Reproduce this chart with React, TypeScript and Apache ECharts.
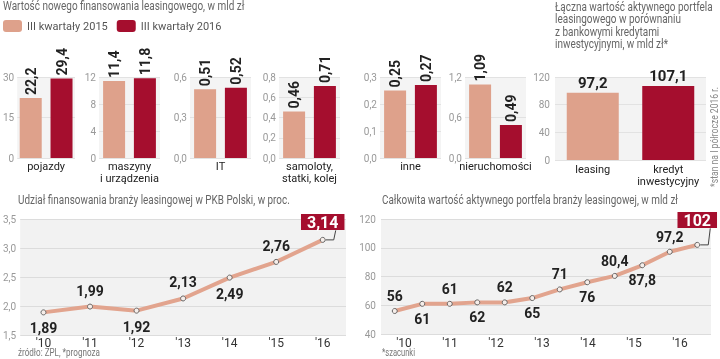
import React, { useEffect, useRef } from 'react';
import * as echarts from 'echarts';

// ---------- data ----------
const legendNames = ['III kwartały 2015', 'III kwartały 2016'];
const smallCategories = ['pojazdy', 'maszyny\ni urządzenia', 'IT', 'samoloty,\nstatki, kolej', 'inne', 'nieruchomości'];
const values2015 = [22.2, 11.4, 0.51, 0.46, 0.25, 1.09];
const values2016 = [29.4, 11.8, 0.52, 0.71, 0.27, 0.49];
const smallMax = [30, 12, 0.6, 0.8, 0.3, 1.2];
const smallInterval = [15, 4, 0.3, 0.2, 0.1, 0.6];
const smallDecimals = [0, 0, 1, 1, 1, 1];

const portfolioCategories = ['leasing', 'kredyt\ninwestycyjny'];
const portfolioValues = [97.2, 107.1];

const gdpYears = ["'10", "'11", "'12", "'13", "'14", "'15", "'16"];
const gdpShare = [1.89, 1.99, 1.92, 2.13, 2.49, 2.76, 3.14];

const totalYears = ["'10", "'11", "'12", "'13", "'14", "'15", "'16"];
const totalPeriods = ['2010 a', '2010 b', '2011 a', '2011 b', '2012 a', '2012 b', '2013 a', '2013 b', '2014 a', '2014 b', '2015 a', '2016 a'];
const totalValues = [56, 61, 61, 62, 62, 65, 71, 76, 80.4, 87.8, 97.2, 102];

const titleTopLeft = 'Wartość nowego finansowania leasingowego, w mld zł';
const titleTopRight = 'Łączna wartość aktywnego portfela\nleasingowego w porównaniu\nz bankowymi kredytami\ninwestycyjnymi, w mld zł*';
const titleGdp = 'Udział finansowania branży leasingowej w PKB Polski, w proc.';
const titleTotal = 'Całkowita wartość aktywnego portfela branży leasingowej, w mld zł';
const noteGdp = 'źródło: ZPL, *prognoza';
const noteTotal = '*szacunki';
const notePortfolio = '*stan na I półrocze 2016 r.';

// ---------- style ----------
const FONT = "Roboto, 'Liberation Sans', sans-serif";
const LIGHT = '#dea18b';
const DARK = '#a50e2e';
const LINE = '#e2a48e';
const PANEL = '#f2f2f2';

const fmt = (v: number, dec?: number) => (dec != null ? v.toFixed(dec) : String(v)).replace('.', ',');

const smallLefts = [14, 99, 190, 279, 380, 465];

let measureCtx: CanvasRenderingContext2D | null = null;
const textWidth = (text: string, size: number) => {
  if (!measureCtx) measureCtx = document.createElement('canvas').getContext('2d');
  if (!measureCtx) return 1;
  measureCtx.font = `${size}px Roboto`;
  return Math.max(...text.split('\n').map((l) => measureCtx!.measureText(l).width));
};

// text drawn at fixed width by compressing it horizontally (the original uses a condensed face)
const fittedText = (text: string, x: number, y: number, size: number, width: number, color: string, extra: any = {}) => ({
  type: 'text', x, y, silent: true,
  scaleX: width / textWidth(text, size),
  style: { text, fontFamily: FONT, fontSize: size, fill: color, align: 'left', verticalAlign: 'middle', ...extra },
});

export default function App() {
  const ref = useRef<HTMLDivElement>(null);

  useEffect(() => {
    document.body.style.margin = '0';
    if (!ref.current) return;
    const chart = echarts.init(ref.current, null, { renderer: 'svg' });

    const grids: any[] = [];
    const xAxes: any[] = [];
    const yAxes: any[] = [];
    const series: any[] = [];

    const valueLabelStyle = { fontFamily: FONT, fontWeight: 'bold', color: '#222', fontSize: 14 };
    const yLabel = { fontFamily: FONT, fontSize: 10, color: '#999' };
    const catLabel = { fontFamily: FONT, fontSize: 11, color: '#222', lineHeight: 12, interval: 0 };

    // small bar charts
    smallCategories.forEach((cat, i) => {
      grids.push({ left: smallLefts[i], width: 61, top: 77, height: 81, show: true, backgroundColor: '#f4f4f4', borderWidth: 0 });
      xAxes.push({
        gridIndex: i, type: 'category', data: [cat],
        axisLine: { show: false }, axisTick: { show: false },
        axisLabel: { ...catLabel, margin: 2 },
      });
      yAxes.push({
        gridIndex: i, type: 'value', min: 0, max: smallMax[i], interval: smallInterval[i],
        axisLabel: { ...yLabel, margin: 3, formatter: (v: number) => fmt(v, smallDecimals[i]) },
        splitLine: { lineStyle: { color: '#e2e2e2' } },
      });
      [values2015, values2016].forEach((vals, k) => {
        series.push({
          type: 'bar', name: legendNames[k], xAxisIndex: i, yAxisIndex: i,
          data: [vals[i]], barWidth: 22, barGap: '40%',
          itemStyle: { color: k === 0 ? LIGHT : DARK },
          label: {
            show: true, position: 'top', rotate: 90, align: 'left', verticalAlign: 'middle', distance: 3,
            ...valueLabelStyle,
            formatter: (p: any) => fmt(p.value),
          },
        });
      });
    });

    // portfolio vs credit
    const gP = grids.length;
    grids.push({ left: 555, width: 151, top: 77, height: 83, show: true, backgroundColor: '#f3f3f3', borderWidth: 0 });
    xAxes.push({
      gridIndex: gP, type: 'category', data: portfolioCategories,
      axisLine: { show: false }, axisTick: { show: false },
      axisLabel: { ...catLabel, margin: 3 },
    });
    yAxes.push({
      gridIndex: gP, type: 'value', min: 0, max: 120, interval: 40,
      axisLabel: { ...yLabel, margin: 5 },
      splitLine: { lineStyle: { color: '#e2e2e2' } },
    });
    series.push({
      type: 'bar', name: 'portfel', xAxisIndex: gP, yAxisIndex: gP, barWidth: 52,
      data: portfolioValues.map((v, j) => ({ value: v, itemStyle: { color: j === 0 ? LIGHT : DARK } })),
      label: { show: true, position: 'top', distance: 2, ...valueLabelStyle, fontSize: 15, formatter: (p: any) => fmt(p.value) },
    });

    const boxLabel = (distance: number) => ({
      show: true, position: 'top', distance, color: '#fff', backgroundColor: DARK,
      fontFamily: FONT, fontWeight: 'bold', fontSize: 16, lineHeight: 15, padding: [1, 6, 0, 6],
    });

    const yearLabel = { fontFamily: FONT, fontSize: 12, color: '#333', margin: 2, interval: 0 };

    // GDP share line chart
    const gG = grids.length;
    grids.push({ left: 17, width: 329, top: 219, height: 116, show: true, backgroundColor: PANEL, borderWidth: 0 });
    xAxes.push({
      gridIndex: gG, type: 'category', data: gdpYears, boundaryGap: true,
      axisLine: { show: false }, axisTick: { show: false },
      axisLabel: yearLabel,
    });
    yAxes.push({
      gridIndex: gG, type: 'value', min: 1.5, max: 3.5, interval: 0.5,
      axisLabel: { ...yLabel, margin: 4, formatter: (v: number) => fmt(v, 1) },
      splitLine: { lineStyle: { color: '#dcdcdc' } },
    });
    const gdpBoxDist = 7;
    const gdpSeriesIndex = series.length;
    series.push({
      type: 'line', xAxisIndex: gG, yAxisIndex: gG,
      symbol: 'circle', symbolSize: 5,
      lineStyle: { color: LINE, width: 4 },
      itemStyle: { color: '#f6eeea', borderColor: '#666', borderWidth: 1 },
      data: gdpShare.map((v, j) => ({
        value: v,
        label: j === gdpShare.length - 1
          ? boxLabel(gdpBoxDist)
          : { show: true, position: j % 2 === 0 ? 'bottom' : 'top', distance: 6, ...valueLabelStyle },
      })),
      label: { formatter: (p: any) => fmt(p.value, 2) },
    });

    // total portfolio line chart
    const gT = grids.length;
    grids.push({ left: 381, width: 330, top: 219, height: 115, show: true, backgroundColor: PANEL, borderWidth: 0 });
    xAxes.push({ gridIndex: gT, type: 'category', data: totalPeriods, boundaryGap: true, show: false });
    yAxes.push({
      gridIndex: gT, type: 'value', min: 40, max: 120, interval: 20,
      axisLabel: { ...yLabel, margin: 5 },
      splitLine: { lineStyle: { color: '#dcdcdc' } },
    });
    const gTL = grids.length;
    grids.push({ left: 381, width: 322, top: 219, height: 115, show: false });
    xAxes.push({
      gridIndex: gTL, type: 'category', data: totalYears, boundaryGap: true,
      axisLine: { show: false }, axisTick: { show: false },
      axisLabel: { ...yearLabel, margin: 3 },
    });
    yAxes.push({ gridIndex: gTL, type: 'value', show: false, splitLine: { show: false } });
    const totalBoxDist = 14;
    const totalSeriesIndex = series.length;
    series.push({
      type: 'line', xAxisIndex: gT, yAxisIndex: gT,
      symbol: 'circle', symbolSize: 5,
      lineStyle: { color: LINE, width: 4 },
      itemStyle: { color: '#f6eeea', borderColor: '#666', borderWidth: 1 },
      data: totalValues.map((v, j) => ({
        value: v,
        label: j === totalValues.length - 1
          ? boxLabel(totalBoxDist)
          : { show: true, position: j % 2 === 0 ? 'top' : 'bottom', distance: 5, ...valueLabelStyle },
      })),
      label: { formatter: (p: any) => fmt(p.value) },
    });

    chart.setOption({
      animation: false,
      textStyle: { fontFamily: FONT },
      legend: {
        data: legendNames, left: 3, top: 20, padding: 0, itemWidth: 19, itemHeight: 12, itemGap: 9,
        icon: 'roundRect', selectedMode: false,
        textStyle: { fontFamily: FONT, fontSize: 11, color: '#555' },
      },
      grid: grids,
      xAxis: xAxes,
      yAxis: yAxes,
      series,
    });

    const connector = (seriesIndex: number, idx: number, value: number, dist: number) => {
      const p = chart.convertToPixel({ seriesIndex }, [idx, value]) as number[];
      const bottom = p[1] - 2.5 - dist;
      return {
        type: 'polyline', silent: true, z: 1,
        shape: { points: [[p[0] + 3, p[1]], [p[0] + 11, p[1]], [p[0] + 13, bottom]] },
        style: { stroke: '#444', lineWidth: 1, fill: 'none' },
      };
    };

    const notePortfolioSize = 10;
    chart.setOption({
      graphic: [
        connector(gdpSeriesIndex, gdpShare.length - 1, gdpShare[gdpShare.length - 1], gdpBoxDist),
        connector(totalSeriesIndex, totalValues.length - 1, totalValues[totalValues.length - 1], totalBoxDist),
        fittedText(titleTopLeft, 3, 6, 12, 242, '#666'),
        fittedText(titleTopRight, 555, 1, 12, 158, '#666', { verticalAlign: 'top', lineHeight: 12.3 }),
        fittedText(titleGdp, 18, 200, 12, 272, '#666'),
        fittedText(titleTotal, 382, 200, 12, 296, '#666'),
        fittedText(noteGdp, 18, 353, 10, 82, '#777'),
        fittedText(noteTotal, 382, 353, 10, 33, '#777'),
        {
          type: 'text', x: 714, y: 137, rotation: Math.PI / 2, silent: true,
          scaleX: 100 / textWidth(notePortfolio, notePortfolioSize),
          style: { text: notePortfolio, fontFamily: FONT, fontSize: notePortfolioSize, fill: '#888', align: 'center', verticalAlign: 'middle' },
        },
      ],
    });

    return () => chart.dispose();
  }, []);

  return <div ref={ref} style={{ position: 'fixed', left: 0, top: 0, width: 720, height: 359 }} />;
}
